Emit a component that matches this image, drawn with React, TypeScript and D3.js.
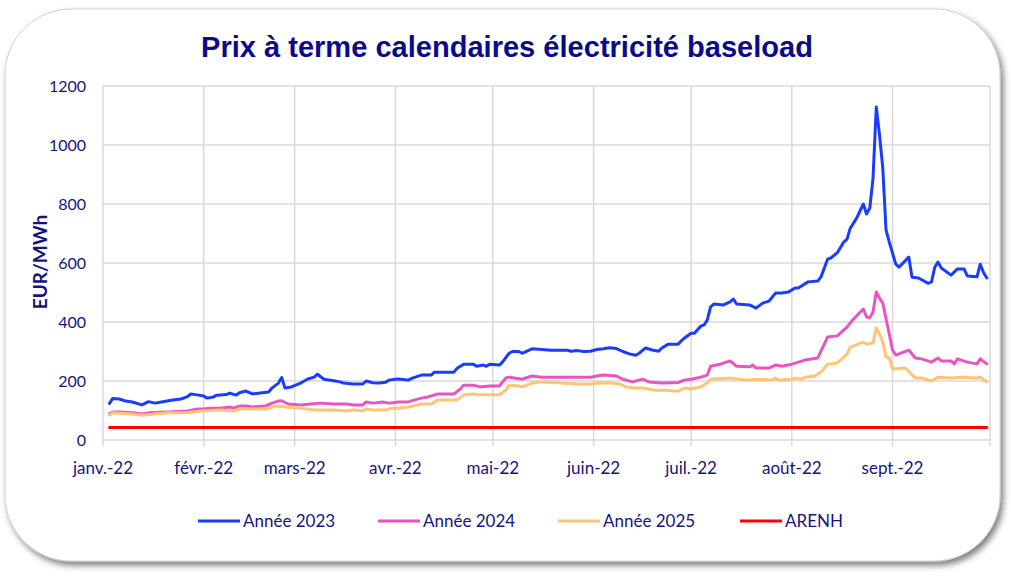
import React from "react";
import * as d3 from "d3";

const title = "Prix à terme calendaires électricité baseload";
const yAxisTitle = "EUR/MWh";
const yTicks = [0, 200, 400, 600, 800, 1000, 1200];
const monthTicks = ["2022-01-01", "2022-02-01", "2022-03-01", "2022-04-01", "2022-05-01", "2022-06-01", "2022-07-01", "2022-08-01", "2022-09-01", "2022-10-01"];
const monthLabels = ["janv.-22", "févr.-22", "mars-22", "avr.-22", "mai-22", "juin-22", "juil.-22", "août-22", "sept.-22"];

const annee2023: [string, number][] = [
  ["01-03", 124], ["01-04", 141], ["01-06", 139], ["01-08", 132], ["01-10", 129], ["01-13", 119], ["01-15", 130],
  ["01-17", 125], ["01-19", 129], ["01-22", 135], ["01-25", 139], ["01-26", 143], ["01-27", 147], ["01-28", 156],
  ["01-30", 153], ["02-01", 149], ["02-02", 142], ["02-04", 146], ["02-05", 152], ["02-08", 154], ["02-09", 159],
  ["02-11", 152], ["02-12", 160], ["02-14", 166], ["02-16", 156], ["02-19", 160], ["02-21", 163], ["02-22", 176],
  ["02-24", 193], ["02-25", 212], ["02-26", 176], ["02-28", 180], ["03-03", 194], ["03-05", 207], ["03-07", 213],
  ["03-08", 223], ["03-10", 206], ["03-13", 201], ["03-15", 197], ["03-16", 193], ["03-19", 190], ["03-22", 190],
  ["03-23", 200], ["03-25", 194], ["03-27", 193], ["03-29", 196], ["03-30", 203], ["04-01", 206], ["04-02", 207],
  ["04-05", 203], ["04-06", 209], ["04-09", 220], ["04-12", 220], ["04-13", 230], ["04-19", 230], ["04-20", 243],
  ["04-22", 257], ["04-25", 257], ["04-26", 250], ["04-28", 254], ["04-29", 250], ["04-30", 257], ["05-03", 254],
  ["05-04", 265], ["05-06", 294], ["05-07", 300], ["05-09", 300], ["05-10", 294], ["05-13", 309], ["05-16", 307],
  ["05-19", 304], ["05-24", 304], ["05-25", 301], ["05-27", 303], ["05-29", 300], ["05-31", 301], ["06-02", 307],
  ["06-04", 309], ["06-06", 313], ["06-08", 310], ["06-10", 300], ["06-12", 292], ["06-14", 287], ["06-15", 294],
  ["06-17", 312], ["06-19", 305], ["06-21", 301], ["06-22", 312], ["06-24", 325], ["06-27", 325], ["06-28", 336],
  ["06-29", 346], ["07-01", 362], ["07-02", 362], ["07-04", 386], ["07-05", 390], ["07-06", 407], ["07-07", 451],
  ["07-08", 461], ["07-11", 458], ["07-13", 468], ["07-14", 478], ["07-15", 461], ["07-19", 458], ["07-21", 447],
  ["07-23", 464], ["07-25", 471], ["07-27", 498], ["07-29", 498], ["07-31", 502], ["08-02", 515], ["08-03", 515],
  ["08-06", 536], ["08-09", 539], ["08-10", 553], ["08-12", 613], ["08-13", 617], ["08-15", 635], ["08-17", 671],
  ["08-18", 681], ["08-19", 718], ["08-21", 753], ["08-23", 800], ["08-24", 766], ["08-25", 786], ["08-26", 888],
  ["08-27", 1129], ["08-28", 1034], ["08-29", 922], ["08-30", 712], ["08-31", 671], ["09-02", 596], ["09-03", 586],
  ["09-06", 620], ["09-07", 552], ["09-09", 549], ["09-12", 531], ["09-13", 536], ["09-14", 586], ["09-15", 603],
  ["09-16", 583], ["09-19", 559], ["09-21", 580], ["09-23", 580], ["09-24", 556], ["09-27", 553], ["09-28", 596],
  ["09-29", 568], ["09-30", 549],
];

const annee2024: [string, number][] = [
  ["01-03", 88], ["01-04", 95], ["01-06", 95], ["01-10", 92], ["01-13", 88], ["01-15", 92], ["01-21", 95],
  ["01-27", 98], ["01-30", 105], ["02-01", 105], ["02-03", 108], ["02-06", 108], ["02-09", 112], ["02-10", 108],
  ["02-12", 115], ["02-14", 115], ["02-16", 112], ["02-20", 115], ["02-22", 125], ["02-24", 132], ["02-25", 133],
  ["02-27", 122], ["03-03", 119], ["03-06", 122], ["03-09", 125], ["03-13", 122], ["03-17", 122], ["03-19", 119],
  ["03-22", 119], ["03-23", 129], ["03-25", 125], ["03-28", 129], ["03-30", 125], ["04-02", 129], ["04-05", 129],
  ["04-07", 136], ["04-09", 142], ["04-11", 146], ["04-14", 156], ["04-19", 156], ["04-21", 173], ["04-22", 186],
  ["04-25", 186], ["04-27", 180], ["04-30", 183], ["05-03", 183], ["05-05", 210], ["05-06", 213], ["05-10", 206],
  ["05-13", 217], ["05-16", 213], ["05-27", 213], ["05-31", 213], ["06-02", 217], ["06-04", 220], ["06-08", 217],
  ["06-10", 206], ["06-13", 197], ["06-16", 206], ["06-18", 197], ["06-22", 193], ["06-27", 195], ["06-29", 203],
  ["07-01", 206], ["07-04", 213], ["07-06", 220], ["07-07", 250], ["07-10", 257], ["07-13", 268], ["07-15", 250],
  ["07-19", 248], ["07-20", 254], ["07-21", 244], ["07-25", 244], ["07-27", 254], ["07-29", 250], ["08-01", 257],
  ["08-05", 271], ["08-09", 278], ["08-12", 349], ["08-15", 353], ["08-17", 373], ["08-18", 383], ["08-20", 410],
  ["08-23", 444], ["08-24", 417], ["08-25", 414], ["08-26", 434], ["08-27", 502], ["08-28", 481], ["08-29", 464],
  ["08-31", 359], ["09-01", 305], ["09-02", 288], ["09-06", 305], ["09-08", 278], ["09-10", 275], ["09-13", 264],
  ["09-15", 278], ["09-16", 268], ["09-19", 268], ["09-20", 258], ["09-21", 275], ["09-24", 264], ["09-27", 258],
  ["09-28", 275], ["09-30", 258],
];

const annee2025: [string, number][] = [
  ["01-03", 85], ["01-04", 92], ["01-10", 88], ["01-13", 84], ["01-21", 92], ["01-27", 92], ["01-31", 98],
  ["02-06", 102], ["02-10", 98], ["02-12", 105], ["02-20", 105], ["02-22", 112], ["02-24", 115], ["02-26", 112],
  ["03-03", 108], ["03-07", 102], ["03-13", 102], ["03-17", 98], ["03-19", 102], ["03-22", 98], ["03-23", 105],
  ["03-25", 102], ["03-29", 102], ["03-31", 108], ["04-02", 108], ["04-05", 112], ["04-09", 122], ["04-12", 122],
  ["04-14", 136], ["04-20", 136], ["04-22", 153], ["04-25", 156], ["04-27", 153], ["05-03", 153], ["05-05", 169],
  ["05-06", 186], ["05-09", 183], ["05-10", 180], ["05-13", 193], ["05-16", 197], ["05-22", 193], ["05-27", 190],
  ["05-31", 190], ["06-03", 193], ["06-06", 193], ["06-09", 190], ["06-11", 180], ["06-14", 176], ["06-16", 176],
  ["06-20", 169], ["06-23", 169], ["06-27", 165], ["06-29", 176], ["07-01", 173], ["07-04", 180], ["07-06", 193],
  ["07-07", 206], ["07-13", 210], ["07-18", 203], ["07-22", 206], ["07-26", 203], ["07-27", 210], ["07-28", 203],
  ["08-01", 206], ["08-02", 210], ["08-04", 206], ["08-05", 213], ["08-08", 217], ["08-10", 230], ["08-12", 257],
  ["08-15", 261], ["08-17", 281], ["08-18", 291], ["08-19", 315], ["08-23", 332], ["08-24", 325], ["08-26", 329],
  ["08-27", 380], ["08-28", 359], ["08-29", 332], ["08-30", 281], ["08-31", 278], ["09-01", 241], ["09-05", 244],
  ["09-08", 210], ["09-10", 210], ["09-13", 200], ["09-15", 213], ["09-19", 210], ["09-23", 213], ["09-27", 210],
  ["09-28", 213], ["09-30", 197],
];

const arenh: [string, number][] = [["01-03", 42], ["09-30", 42]];

const seriesNames = ["Année 2023", "Année 2024", "Année 2025", "ARENH"];
const seriesColors = ["#1A3CFF", "#E855C0", "#FFC476", "#FF0000"];

const W = 1011;
const H = 577;
const LABEL = "#14147E";
const TITLE_COLOR = "#0B0B8A";
const GRID = "#D9D9D9";
const FONT = "Lato, 'Open Sans', sans-serif";

const parse = d3.timeParse("%Y-%m-%d");
const toDate = (md: string) => parse("2022-" + md) as Date;

export default function App() {
  const x = d3.scaleTime().domain([toDate("01-01"), toDate("10-01")]).range([103, 990]);
  const y = d3.scaleLinear().domain([0, 1200]).range([440, 86]);
  const line = d3
    .line<[string, number]>()
    .x((d) => x(toDate(d[0])))
    .y((d) => y(d[1]));
  const allSeries = [annee2023, annee2024, annee2025, arenh];
  const ticks = monthTicks.map((s) => parse(s) as Date);
  const legendX = [198, 378, 558, 740];
  const legendY = 521;

  return (
    <svg width={W} height={H} style={{ position: "absolute", left: 0, top: 0, background: "#fff" }} xmlns="http://www.w3.org/2000/svg">
      <defs>
        <filter id="shadow" x="-5%" y="-5%" width="110%" height="115%">
          <feDropShadow dx="3" dy="4" stdDeviation="3" floodColor="#000" floodOpacity="0.5" />
        </filter>
      </defs>
      <rect x={5} y={9} width={995} height={552} rx={66} ry={66} fill="#fff" stroke="#d0d0d0" strokeWidth={1} filter="url(#shadow)" />

      <text x={507} y={57} textAnchor="middle" fontFamily="'Liberation Sans Narrow', 'Arial Narrow', 'Liberation Sans', Arial, sans-serif" fontWeight="bold" fontSize={30} fill={TITLE_COLOR} textLength={612} lengthAdjust="spacingAndGlyphs">
        {title}
      </text>

      {/* horizontal gridlines */}
      {yTicks.map((t) => (
        <line key={"h" + t} x1={103} x2={990} y1={y(t)} y2={y(t)} stroke={GRID} strokeWidth={1.5} />
      ))}
      {/* vertical gridlines */}
      {ticks.map((t, i) => (
        <line key={"v" + i} x1={x(t)} x2={x(t)} y1={86} y2={446} stroke={GRID} strokeWidth={1.5} />
      ))}

      {/* y tick labels */}
      {yTicks.map((t) => (
        <text key={"yl" + t} x={86} y={y(t)} dy="0.36em" textAnchor="end" fontFamily={FONT} fontSize={16} fill={LABEL}>
          {t}
        </text>
      ))}
      <text transform={`translate(47,262) rotate(-90)`} textAnchor="middle" fontFamily={FONT} fontWeight="bold" fontSize={19} fill={LABEL}>
        {yAxisTitle}
      </text>

      {/* x labels */}
      {monthLabels.map((l, i) => (
        <text key={"xl" + i} x={x(ticks[i])} y={474} textAnchor="middle" fontFamily={FONT} fontSize={17} fill={LABEL}>
          {l}
        </text>
      ))}

      {/* series */}
      {allSeries.map((s, i) => (
        <path key={"s" + i} d={line(s) || ""} fill="none" stroke={seriesColors[i]} strokeWidth={3} strokeLinejoin="round" strokeLinecap="round" />
      ))}

      {/* legend */}
      {seriesNames.map((n, i) => (
        <g key={"lg" + i}>
          <line x1={legendX[i]} x2={legendX[i] + 42} y1={legendY} y2={legendY} stroke={seriesColors[i]} strokeWidth={3} />
          <text x={legendX[i] + 45} y={legendY} dy="0.36em" fontFamily={FONT} fontSize={17} fill={LABEL}>
            {n}
          </text>
        </g>
      ))}
    </svg>
  );
}
